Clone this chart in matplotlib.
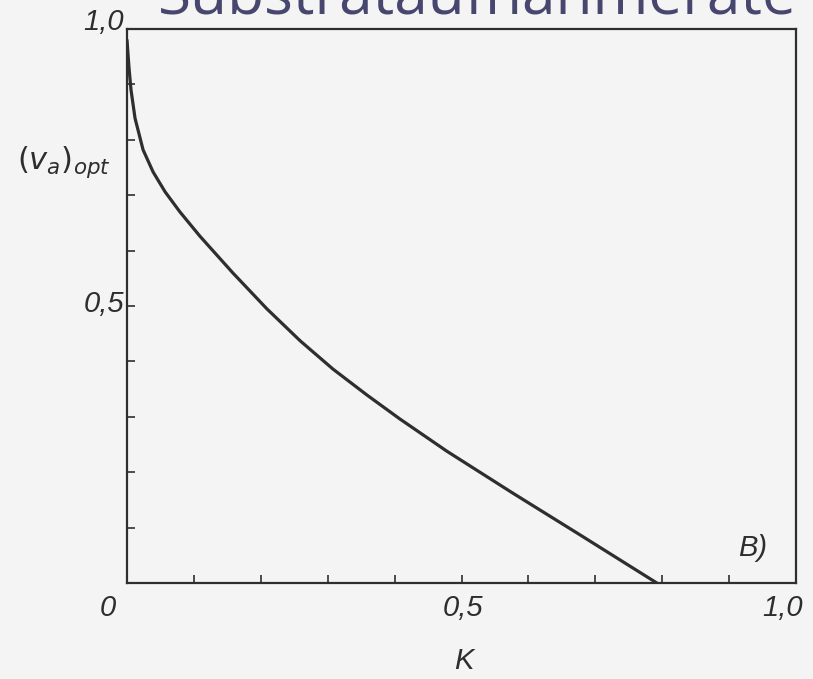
import matplotlib
matplotlib.use("Agg")
import matplotlib.pyplot as plt
from matplotlib.ticker import MultipleLocator

# optimum curve (v_a)_opt over K
k_vals = [0.0, 0.003, 0.006, 0.012, 0.024, 0.039, 0.057, 0.079, 0.109,
          0.158, 0.209, 0.259, 0.308, 0.359, 0.408, 0.478, 0.577, 0.677,
          0.792]
v_opt = [0.980, 0.930, 0.890, 0.839, 0.782, 0.742, 0.706, 0.670, 0.626,
         0.560, 0.495, 0.437, 0.386, 0.339, 0.296, 0.238, 0.162, 0.087,
         0.0]

x_tick_vals = [0.0, 0.5, 1.0]
x_tick_text = ["0", "0,5", "1,0"]
y_tick_vals = [1.0, 0.5]
y_tick_text = ["1,0", "0,5"]

title = "Substrataufnahmerate"
ink = "#2e2e2e"
hand = ["Liberation Sans", "DejaVu Sans"]

fig = plt.figure(figsize=(8.13, 6.79), dpi=100)
fig.patch.set_facecolor("#f4f4f4")
ax = fig.add_axes([127 / 813, 1 - 583 / 679, 669 / 813, 554 / 679])
ax.set_facecolor("#f4f4f4")

ax.plot(k_vals, v_opt, color=ink, lw=2.3, solid_joinstyle="round",
        solid_capstyle="round")

ax.set_xlim(0, 1.0)
ax.set_ylim(0, 1.0)
for s in ax.spines.values():
    s.set_color(ink)
    s.set_linewidth(1.6)

ax.xaxis.set_major_locator(MultipleLocator(0.1))
ax.yaxis.set_major_locator(MultipleLocator(0.1))
ax.tick_params(direction="in", length=6, width=1.2, color=ink,
               labelbottom=False, labelleft=False)

# hand-lettered tick labels
for x, t, dx in zip(x_tick_vals, x_tick_text, [-0.028, 0.003, -0.02]):
    ax.text(x + dx, -0.045, t, ha="center", va="center", fontsize=21,
            style="italic", family=hand, color=ink)
for y, t, dy in zip(y_tick_vals, y_tick_text, [0.012, 0.003]):
    ax.text(-0.035, y + dy, t, ha="center", va="center", fontsize=21,
            style="italic", family=hand, color=ink)

ax.text(0.503, -0.14, "K", ha="center", va="center", fontsize=21,
        style="italic", family=hand, color=ink)
ax.text(-0.094, 0.76, r"$(v_a)_{opt}$", ha="center", va="center",
        fontsize=22, color=ink)
ax.text(0.935, 0.063, "B)", ha="center", va="center", fontsize=21,
        style="italic", family=hand, color=ink)

fig.text(158 / 813, 1 - 14 / 679, title, ha="left", va="baseline",
         fontsize=43.5, family="Open Sans", color="#47466e")

fig.savefig("out.png", dpi=100, facecolor=fig.get_facecolor())
